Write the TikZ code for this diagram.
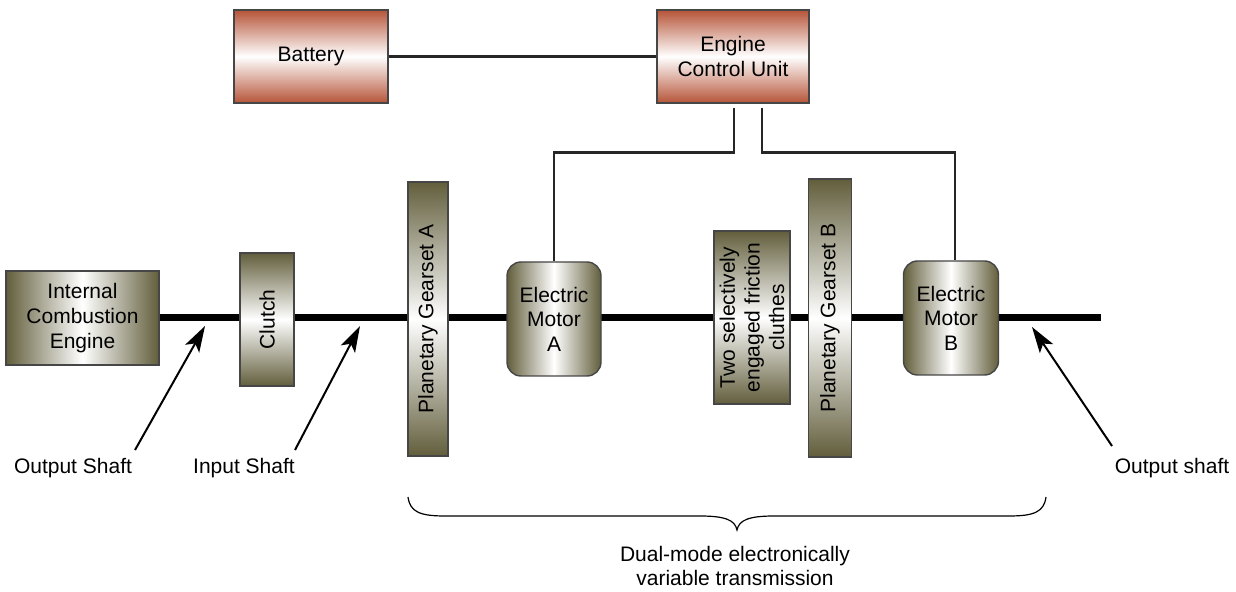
\documentclass[tikz,border=0pt]{standalone}
\usepackage{fontspec}
\setmainfont{Liberation Sans}
\usetikzlibrary{arrows.meta}
\definecolor{olivedk}{RGB}{98,94,60}
\definecolor{reddk}{RGB}{182,84,56}
\definecolor{edgecol}{RGB}{70,70,70}
\pgfdeclarelayer{background}
\pgfsetlayers{background,main}
\begin{document}
\begin{tikzpicture}[x=0.5pt,y=-0.5pt,
  font=\fontsize{10.5}{12.3}\selectfont,
  olbox/.style={draw=edgecol, line width=0.7pt, left color=olivedk, right color=olivedk, middle color=white, align=center, inner sep=0pt},
  olvbox/.style={draw=edgecol, line width=0.7pt, rotate=90, top color=olivedk, bottom color=olivedk, middle color=white, align=center, inner sep=0pt},
  redbox/.style={draw=edgecol, line width=0.7pt, top color=reddk, bottom color=reddk, middle color=white, align=center, inner sep=0pt},
  wire/.style={line width=1.2pt, draw=black!85},
  shaft/.style={line width=3.5pt, draw=black},
  arr/.style={line width=1pt, -{Stealth[length=13pt,width=8pt,inset=3pt]}},
  lbl/.style={align=center, inner sep=0pt}]
\useasboundingbox (0,0) rectangle (1236,592);

% top boxes
\node[redbox, minimum width=77pt, minimum height=46.5pt] (batt) at (311,56.5) {Battery};
\node[redbox, minimum width=76pt, minimum height=46.5pt] (ecu) at (733,56.5) {Engine\\Control Unit};

% drivetrain
\node[olbox, minimum width=76.5pt, minimum height=47pt] (ice) at (82.5,318) {Internal\\Combustion\\Engine};
\node[olvbox, minimum width=66.5pt, minimum height=27pt] (clutch) at (267,319.5) {Clutch};
\node[olvbox, minimum width=137pt, minimum height=20pt] (pga) at (428,319) {Planetary Gearset A};
\node[olbox, rounded corners=7pt, minimum width=47pt, minimum height=57pt] (ma) at (554,319) {Electric\\Motor\\A};
\node[olvbox, minimum width=86.5pt, minimum height=38pt] (tse) at (752,317.5) {Two selectively\\engaged friction\\cluthes};
\node[olvbox, minimum width=139pt, minimum height=21.5pt] (pgb) at (830,318) {Planetary Gearset B};
\node[olbox, rounded corners=7pt, minimum width=47.5pt, minimum height=57pt] (mb) at (951,318) {Electric\\Motor\\B};
\coordinate (shaftend) at (1101,318);

\begin{pgfonlayer}{background}
\draw[shaft] (ice.east) -- (shaftend);
\end{pgfonlayer}

% wiring
\draw[wire] (batt.east) -- (ecu.west);
\draw[wire] ([xshift=0.5pt,yshift=-2pt]ecu.south) -- ++(0,45) -| (ma.north);
\draw[wire] ([xshift=14.5pt,yshift=-2pt]ecu.south) -- ++(0,45) -| ([xshift=2pt]mb.north);

% labels and arrows
\node[lbl] (osl) at (73,468) {Output Shaft};
\node[lbl] (isl) at (244,468) {Input Shaft};
\node[lbl] (osr) at (1172,468) {Output shaft};
\coordinate (osltail) at (135,450);
\coordinate (osltip) at (205,326);
\coordinate (isltail) at (295,450);
\coordinate (isltip) at (360,326);
\coordinate (osrtail) at (1112,446);
\coordinate (osrtip) at (1032,327);
\draw[arr] (osltail) -- (osltip);
\draw[arr] (isltail) -- (isltip);
\draw[arr] (osrtail) -- (osrtip);

% brace
\coordinate (brl) at (408,497);
\coordinate (brm) at (737,530);
\coordinate (brr) at (1046,497);
\draw[line width=0.6pt] (brl) .. controls (410,512) and (420,516) .. (445,516)
  -- (700,516) .. controls (725,516) and (735,520) .. (brm)
  .. controls (739,520) and (749,516) .. (774,516)
  -- (1009,516) .. controls (1034,516) and (1044,512) .. (brr);
\node[lbl] (dmevt) at (735,566) {Dual-mode electronically\\variable transmission};
\end{tikzpicture}
\end{document}
